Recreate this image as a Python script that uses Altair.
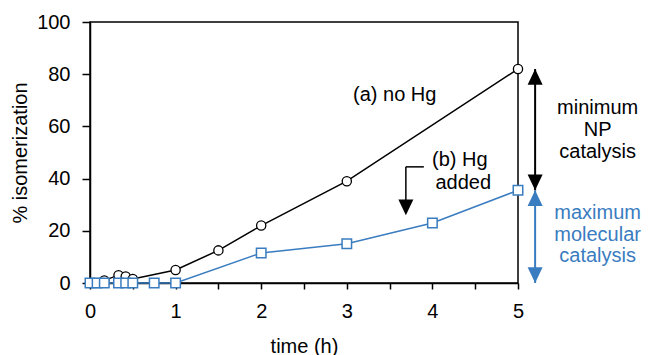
import altair as alt
import pandas as pd

# Series (a) no Hg
t_a = [0, 0.083, 0.167, 0.333, 0.417, 0.5, 1, 1.5, 2, 3, 5]
y_a = [0, 0, 1, 3, 2.5, 1.5, 5, 12.5, 22, 39, 82]
# Series (b) Hg added
t_b = [0, 0.083, 0.167, 0.333, 0.417, 0.5, 0.75, 1, 2, 3, 4, 5]
y_b = [0, 0, 0, 0, 0, 0, 0, 0, 11.5, 15, 23, 35.5]

x_ticks = [0, 0.5, 1, 1.5, 2, 2.5, 3, 3.5, 4, 4.5, 5]
y_ticks = [0, 10, 20, 30, 40, 50, 60, 70, 80, 90, 100]

BLUE = "#3a7cc0"
FONT = "Liberation Sans"
FS = 20

# annotation anchors (data units)
arrow_t = 5.2
hg_t = [3.69, 3.9]
hg_y = 44.5
hg_tip = 26

labels_black = [
    {"t": 3.56, "y": 72, "text": "(a) no Hg"},
    {"t": 4.32, "y": 47, "text": "(b) Hg"},
    {"t": 4.36, "y": 38.5, "text": "added"},
    {"t": 5.93, "y": 67, "text": "minimum"},
    {"t": 5.93, "y": 58.5, "text": "NP"},
    {"t": 5.93, "y": 50.3, "text": "catalysis"},
]
labels_blue = [
    {"t": 5.93, "y": 26.7, "text": "maximum"},
    {"t": 5.93, "y": 18.4, "text": "molecular"},
    {"t": 5.93, "y": 10.2, "text": "catalysis"},
]

df_a = pd.DataFrame({"t": t_a, "y": y_a})
df_b = pd.DataFrame({"t": t_b, "y": y_b})

xs = alt.Scale(domain=[0, 5], nice=False)
ys = alt.Scale(domain=[0, 100], nice=False)

X = alt.X("t:Q", scale=xs, axis=alt.Axis(
    values=x_ticks, title="time (h)", grid=False,
    labelExpr="datum.value % 1 === 0 ? format(datum.value, 'd') : ''",
    tickSize=6, labelPadding=12, titlePadding=15, labelFlush=False))
Y = alt.Y("y:Q", scale=ys, axis=alt.Axis(
    values=y_ticks, title="% isomerization", grid=False,
    labelExpr="datum.value % 20 === 0 ? format(datum.value, 'd') : ''",
    tickSize=8, labelPadding=12, titlePadding=6, labelFlush=False))

line_a = alt.Chart(df_a).mark_line(color="black", strokeWidth=1.5).encode(x=X, y=Y)
pts_a = alt.Chart(df_a).mark_point(shape="circle", size=85, filled=True, fill="white",
                                   stroke="black", strokeWidth=1.3, opacity=1).encode(x="t:Q", y="y:Q")
line_b = alt.Chart(df_b).mark_line(color=BLUE, strokeWidth=1.5).encode(x="t:Q", y="y:Q")
pts_b = alt.Chart(df_b).mark_point(shape="square", size=90, filled=True, fill="white",
                                   stroke=BLUE, strokeWidth=1.5, opacity=1).encode(x="t:Q", y="y:Q")

# double arrows at right
arrows = pd.DataFrame({
    "t": [arrow_t, arrow_t],
    "y1": [y_a[-1], y_b[-1]],
    "y2": [y_b[-1], 0],
    "c": ["black", BLUE],
})
rules = alt.Chart(arrows).mark_rule(strokeWidth=2).encode(
    x="t:Q", y="y1:Q", y2="y2:Q", color=alt.Color("c:N", scale=None))

UP = "M-1,2.1L1,2.1L0,0Z"
DOWN = "M-1,-2.1L1,-2.1L0,0Z"
heads = pd.DataFrame({
    "t": [arrow_t] * 4 + [hg_t[0]],
    "y": [y_a[-1], y_b[-1], y_b[-1], 0, hg_tip],
    "dir": ["up", "down", "up", "down", "down"],
    "c": ["black", "black", BLUE, BLUE, "black"],
})
head_up = alt.Chart(heads).transform_filter("datum.dir === 'up'").mark_point(
    shape=UP, size=225, filled=True, opacity=1, strokeWidth=0).encode(
    x="t:Q", y="y:Q", color=alt.Color("c:N", scale=None))
head_down = alt.Chart(heads).transform_filter("datum.dir === 'down'").mark_point(
    shape=DOWN, size=225, filled=True, opacity=1, strokeWidth=0).encode(
    x="t:Q", y="y:Q", color=alt.Color("c:N", scale=None))

# bent "Hg added" arrow
hg_h = alt.Chart(pd.DataFrame({"t1": [hg_t[0]], "t2": [hg_t[1]], "y": [hg_y]})).mark_rule(
    strokeWidth=1.5, color="black").encode(x="t1:Q", x2="t2:Q", y="y:Q")
hg_v = alt.Chart(pd.DataFrame({"t": [hg_t[0]], "y1": [hg_y], "y2": [hg_tip + 4]})).mark_rule(
    strokeWidth=1.5, color="black").encode(x="t:Q", y="y1:Q", y2="y2:Q")

txt_black = alt.Chart(pd.DataFrame(labels_black)).mark_text(
    font=FONT, fontSize=FS, color="black", align="center", baseline="middle").encode(
    x="t:Q", y="y:Q", text="text:N")
txt_blue = alt.Chart(pd.DataFrame(labels_blue)).mark_text(
    font=FONT, fontSize=FS, color=BLUE, align="center", baseline="middle").encode(
    x="t:Q", y="y:Q", text="text:N")

chart = alt.layer(line_a, pts_a, line_b, pts_b, rules, head_up, head_down, hg_h, hg_v,
                  txt_black, txt_blue).properties(
    width=428, height=261,
    autosize=alt.AutoSizeParams(type="none"),
    padding={"left": 82, "top": 14, "right": 124, "bottom": 72},
).configure_view(stroke="black", strokeWidth=1.5).configure_axis(
    labelFont=FONT, titleFont=FONT, labelFontSize=FS, titleFontSize=FS,
    titleFontWeight="normal", labelColor="black", titleColor="black",
    domainColor="black", tickColor="black", domainWidth=1.5, tickWidth=1.5,
)

chart.save("out.html", embed_options={"renderer": "svg", "actions": False})
